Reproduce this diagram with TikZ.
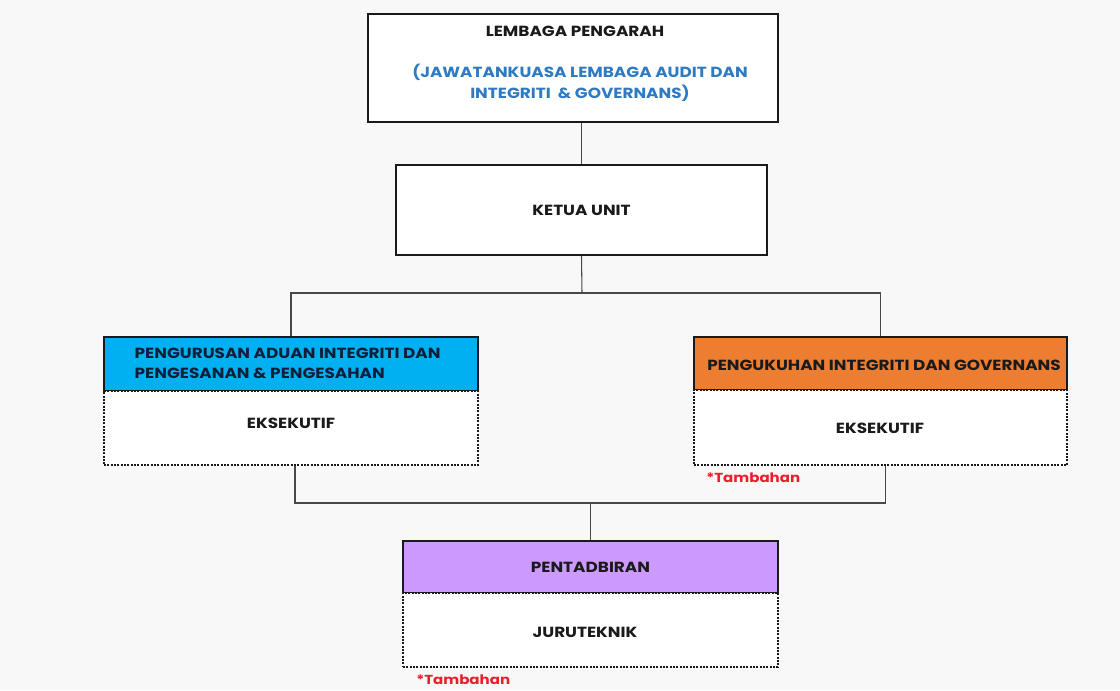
\documentclass[tikz,border=0pt]{standalone}
\usepackage{fontspec}
\setmainfont{Poppins}[FakeStretch=1.15]
\definecolor{bg}{HTML}{F8F8F8}
\definecolor{cyanhead}{HTML}{00B0F0}
\definecolor{orangehead}{HTML}{ED7D31}
\definecolor{purplehead}{HTML}{CC99FF}
\definecolor{bluetext}{HTML}{2E7BC4}
\definecolor{navytext}{HTML}{0F1F3A}
\definecolor{redtext}{HTML}{E8202A}
\definecolor{ink}{HTML}{1A1A1A}
\tikzset{
  mainbox/.style={draw=ink, line width=1.8pt, fill=white, align=center, inner sep=0pt},
  headbox/.style={draw=ink, line width=0.9pt, align=center, inner sep=0pt},
  bodybox/.style={draw=ink, line width=0.8pt, dash pattern=on 1.5pt off 1pt, fill=white, inner sep=0pt},
  conn/.style={draw=ink!80, line width=0.8pt},
  lbl/.style={font=\fontsize{11}{15}\selectfont\bfseries, text=ink},
  note/.style={font=\fontsize{9.8}{11}\selectfont\bfseries, text=redtext, anchor=west, inner sep=0pt},
}
\begin{document}
\begin{tikzpicture}[x=0.75pt, y=-0.75pt]
\fill[bg] (0,0) rectangle (1120,690);
\useasboundingbox (0,0) rectangle (1120,690);

% top box
\node[mainbox, minimum width=410*0.75pt, minimum height=108*0.75pt] (lp) at (573,68) {};
\node[lbl] (lpt) at (575,31) {LEMBAGA PENGARAH};
\node[lbl, text=bluetext, align=center, font=\fontsize{11}{15.75}\selectfont\bfseries] (lpb) at (580,83) {(JAWATANKUASA LEMBAGA AUDIT DAN\\INTEGRITI \ \& GOVERNANS)};

% ketua
\node[mainbox, minimum width=371*0.75pt, minimum height=90*0.75pt, lbl] (ku) at (581.5,210) {KETUA UNIT};

% left unit
\node[headbox, fill=cyanhead, minimum width=374*0.75pt, minimum height=54*0.75pt] (lh) at (291,364) {};
\node[lbl, text=navytext, align=left, anchor=west, font=\fontsize{11}{15}\selectfont\bfseries] (lht) at (130,363) {PENGURUSAN ADUAN INTEGRITI DAN\\PENGESANAN \& PENGESAHAN};
\node[bodybox, minimum width=374*0.75pt, minimum height=74*0.75pt] (lb) at (291,428) {};
\node[lbl] (lbt) at (291,423) {EKSEKUTIF};

% right unit
\node[headbox, fill=orangehead, minimum width=373*0.75pt, minimum height=53*0.75pt] (rh) at (880.5,363.5) {};
\node[lbl, text=ink, font=\fontsize{11}{15}\selectfont\bfseries] (rht) at (884,365) {PENGUKUHAN INTEGRITI DAN GOVERNANS};
\node[bodybox, minimum width=373*0.75pt, minimum height=75*0.75pt] (rb) at (880.5,427.5) {};
\node[lbl] (rbt) at (880,428) {EKSEKUTIF};
\node[note] (n1) at (706,478) {*Tambahan};

% pentadbiran
\node[headbox, fill=purplehead, minimum width=375*0.75pt, minimum height=52*0.75pt, lbl] (ph) at (590.5,567) {PENTADBIRAN};
\node[bodybox, minimum width=375*0.75pt, minimum height=74*0.75pt] (pb) at (590.5,630) {};
\node[lbl] (pbt) at (585,632) {JURUTEKNIK};
\node[note] (n2) at (416,680) {*Tambahan};

% connectors
\coordinate (bus1) at (582,293);
\coordinate (bus2) at (590.5,503);
\draw[conn] (ku.north) -- (ku.north |- lp.south);
\draw[conn] (ku.south) -- (bus1);
\draw[conn] (lh.north) |- (bus1) -| (rh.north);
\draw[conn] ([xshift=3pt]lb.south) |- (bus2) -| ([xshift=4pt]rb.south);
\draw[conn] (bus2) -- (ph.north);
\end{tikzpicture}
\end{document}
